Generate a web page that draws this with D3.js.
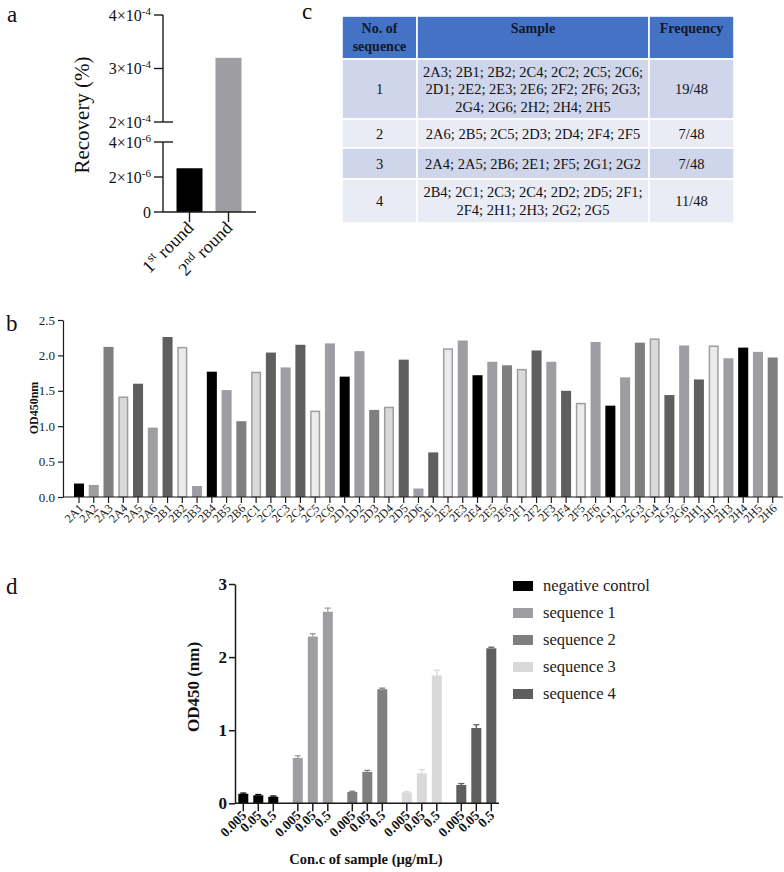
<!DOCTYPE html>
<html><head><meta charset="utf-8">
<script src="https://cdn.jsdelivr.net/npm/d3@7"></script>
<style>
body{margin:0;background:#fff}
svg{display:block}
svg text{font-family:'Liberation Serif','Tinos','Times New Roman','DejaVu Serif',serif !important}
</style>
</head><body>
<svg id="fig" width="784" height="872" style="font-family:'Liberation Serif','DejaVu Serif',serif"></svg>
<script>
// ---------- Panel a data ----------
const recRounds = ["1st", "2nd"];
const recValues = [2.5e-6, 3.2e-4];
const recLowTicks = [0, 2e-6, 4e-6];
const recHighTicks = [2e-4, 3e-4, 4e-4];

// ---------- Panel b data ----------
const wells = ["2A1","2A2","2A3","2A4","2A5","2A6","2B1","2B2","2B3","2B4","2B5","2B6",
  "2C1","2C2","2C3","2C4","2C5","2C6","2D1","2D2","2D3","2D4","2D5","2D6",
  "2E1","2E2","2E3","2E4","2E5","2E6","2F1","2F2","2F3","2F4","2F5","2F6",
  "2G1","2G2","2G3","2G4","2G5","2G6","2H1","2H2","2H3","2H4","2H5","2H6"];
const od450 = [0.19,0.17,2.12,1.42,1.60,0.98,2.26,2.12,0.155,1.77,1.51,1.07,
  1.77,2.04,1.83,2.15,1.22,2.17,1.70,2.06,1.23,1.275,1.94,0.12,
  0.63,2.10,2.21,1.72,1.91,1.86,1.81,2.07,1.91,1.50,1.33,2.19,
  1.29,1.69,2.18,2.24,1.44,2.14,1.66,2.14,1.96,2.11,2.05,1.97];
const odTicks = [0, 0.5, 1.0, 1.5, 2.0, 2.5];

// ---------- Panel c data ----------
const seqHeader = [["No. of", "sequence"], ["Sample"], ["Frequency"]];
const seqNumbers = ["1", "2", "3", "4"];
const seqSamples = [
  ["2A3; 2B1; 2B2; 2C4; 2C2; 2C5; 2C6;", "2D1; 2E2; 2E3; 2E6; 2F2; 2F6; 2G3;", "2G4; 2G6; 2H2; 2H4; 2H5"],
  ["2A6; 2B5; 2C5; 2D3; 2D4; 2F4; 2F5"],
  ["2A4; 2A5; 2B6; 2E1; 2F5; 2G1; 2G2"],
  ["2B4; 2C1; 2C3; 2C4; 2D2; 2D5; 2F1;", "2F4; 2H1; 2H3; 2G2; 2G5"]
];
const seqFreq = ["19/48", "7/48", "7/48", "11/48"];

// ---------- Panel d data ----------
const concLabels = ["0.005", "0.05", "0.5"];
const groups = ["negative control", "sequence 1", "sequence 2", "sequence 3", "sequence 4"];
const dMeans = [[0.13,0.11,0.09],[0.62,2.28,2.62],[0.155,0.43,1.56],[0.15,0.41,1.75],[0.25,1.03,2.12]];
const dErrors = [[0.01,0.01,0.01],[0.03,0.04,0.05],[0.01,0.02,0.015],[0.01,0.05,0.07],[0.02,0.045,0.015]];
const dTicks = [0, 1, 2, 3];

// ---------- styles ----------
const SERIF = "'Liberation Serif','DejaVu Serif',serif";
const svg = d3.select("#fig");
const AX = "#1a1a1a";
const groupColors = ["#000000", "#9e9ea2", "#7f7f7f", "#d9d9d9", "#5f5f5f"];
// GraphPad grayscale cycle used in panel b
const wellPalette = [
  {f:"#000000", s:null}, {f:"#9e9ea2", s:null}, {f:"#7f7f7f", s:null},
  {f:"#d9d9d9", s:"#9e9ea2"}, {f:"#5f5f5f", s:null}, {f:"#9e9ea2", s:null},
  {f:"#5f5f5f", s:null}, {f:"#ebebeb", s:"#9e9ea2"}, {f:"#9e9ea2", s:null}
];

function txt(sel) { return sel.append("text").style("font-family", SERIF).attr("fill", "#111"); }
function panelLabel(t, x, y) { txt(svg).attr("x", x).attr("y", y).attr("font-size", 23).text(t); }

// =============== Panel a ===============
(function () {
  const g = svg.append("g");
  const axX = 163, baseY = 212;
  const yLow = d3.scaleLinear().domain([0, 4e-6]).range([baseY, 142]);
  const yHigh = d3.scaleLinear().domain([2e-4, 4e-4]).range([122, 15]);
  const x = d3.scaleBand().domain(recRounds).range([170, 248]).paddingInner(0.333).paddingOuter(0.167);
  const yVal = v => v <= 4e-6 ? yLow(v) : yHigh(v);

  g.selectAll("rect.bar").data(recValues).join("rect")
    .attr("x", (d, i) => x(recRounds[i]))
    .attr("width", x.bandwidth())
    .attr("y", d => yVal(d))
    .attr("height", d => baseY - yVal(d))
    .attr("fill", (d, i) => i === 0 ? "#000" : "#9e9ea2");

  g.append("line").attr("x1", axX).attr("x2", axX).attr("y1", yHigh(4e-4)).attr("y2", yHigh(2e-4)).attr("stroke", AX).attr("stroke-width", 1.4);
  g.append("line").attr("x1", axX).attr("x2", axX).attr("y1", yLow(4e-6)).attr("y2", baseY).attr("stroke", AX).attr("stroke-width", 1.4);
  g.append("line").attr("x1", axX).attr("x2", 256).attr("y1", baseY).attr("y2", baseY).attr("stroke", AX).attr("stroke-width", 1.4);

  const tickItems = recHighTicks.map(v => ({v, y: yHigh(v), brk: v === 2e-4, exp: -4}))
    .concat(recLowTicks.map(v => ({v, y: yLow(v), brk: v === 4e-6, exp: -6})));
  tickItems.forEach(t => {
    g.append("line").attr("x1", axX - 9).attr("x2", t.brk ? axX + 10 : axX)
      .attr("y1", t.y).attr("y2", t.y).attr("stroke", AX).attr("stroke-width", 1.4);
    const tx = txt(g).attr("x", axX - 12).attr("y", t.y + 5.5)
      .attr("text-anchor", "end").attr("font-size", 16);
    if (t.v === 0) { tx.text("0"); }
    else {
      const m = Math.round(t.v / Math.pow(10, t.exp));
      tx.append("tspan").text(m + "\u00d710");
      tx.append("tspan").attr("dy", -6).attr("font-size", 11).text("-" + (-t.exp));
    }
  });

  recRounds.forEach((r, i) => {
    const cx = x(r) + x.bandwidth() / 2;
    g.append("line").attr("x1", cx).attr("x2", cx).attr("y1", baseY).attr("y2", baseY + 10).attr("stroke", AX).attr("stroke-width", 1.4);
    const t = txt(g).attr("text-anchor", "end").attr("font-size", 18)
      .attr("transform", `translate(${cx + 5},${baseY + 17}) rotate(-45)`);
    t.append("tspan").text(r.slice(0, 1));
    t.append("tspan").attr("dy", -7).attr("font-size", 12).text(r.slice(1));
    t.append("tspan").attr("dy", 7).text(" round");
  });

  txt(g).attr("transform", "translate(89,115) rotate(-90)")
    .attr("text-anchor", "middle").attr("font-size", 21).text("Recovery (%)");
  panelLabel("a", 7, 22);
})();

// =============== Panel c ===============
(function () {
  const g = svg.append("g");
  const colX = [342, 417, 649, 734];
  const rowY = [16, 59, 119, 148, 179, 223];
  const rowFill = ["#4472c4", "#cfd5ea", "#e9ebf5", "#cfd5ea", "#e9ebf5"];
  for (let r = 0; r < 5; r++) {
    for (let c = 0; c < 3; c++) {
      g.append("rect").attr("x", colX[c]).attr("y", rowY[r])
        .attr("width", colX[c + 1] - colX[c]).attr("height", rowY[r + 1] - rowY[r])
        .attr("fill", rowFill[r]).attr("stroke", "#fff").attr("stroke-width", 1.6);
    }
  }
  const cx = c => (colX[c] + colX[c + 1]) / 2;
  seqHeader.forEach((lines, c) => {
    lines.forEach((ln, k) => {
      txt(g).attr("x", cx(c)).attr("y", 33 + k * 18).attr("text-anchor", "middle")
        .attr("font-size", 14).attr("font-weight", "bold").attr("fill", "#101828").text(ln);
    });
  });
  const lh = 17.5;
  seqNumbers.forEach((n, r) => {
    const top = rowY[r + 1], bot = rowY[r + 2];
    const mid = (top + bot) / 2;
    const lines = seqSamples[r];
    const first = mid - (lines.length - 1) * lh / 2 + 5;
    txt(g).attr("x", cx(0)).attr("y", mid + 5).attr("text-anchor", "middle").attr("font-size", 14.5).text(n);
    lines.forEach((ln, k) => {
      txt(g).attr("x", cx(1)).attr("y", first + k * lh).attr("text-anchor", "middle").attr("font-size", 14.5).text(ln);
    });
    txt(g).attr("x", cx(2)).attr("y", mid + 5).attr("text-anchor", "middle").attr("font-size", 14.5).text(seqFreq[r]);
  });
  panelLabel("c", 302, 19);
})();

// =============== Panel b ===============
(function () {
  const g = svg.append("g");
  const axX = 63, baseY = 497;
  const y = d3.scaleLinear().domain([0, 2.5]).range([baseY, 320]);
  const step = 14.76;
  const x = d3.scaleBand().domain(wells).range([79 - step / 2, 79 + step * 47 + step / 2]).paddingInner(0.32).paddingOuter(0.16);

  g.selectAll("rect").data(od450).join("rect")
    .attr("x", (d, i) => x(wells[i]) + (wellPalette[i % 9].s ? 0.75 : 0))
    .attr("width", (d, i) => x.bandwidth() - (wellPalette[i % 9].s ? 1.5 : 0))
    .attr("y", (d, i) => y(d) + (wellPalette[i % 9].s ? 0.75 : 0))
    .attr("height", (d, i) => baseY - y(d) - (wellPalette[i % 9].s ? 0.75 : 0))
    .attr("fill", (d, i) => wellPalette[i % 9].f)
    .attr("stroke", (d, i) => wellPalette[i % 9].s || "none")
    .attr("stroke-width", 1.5);

  const yAxis = d3.axisLeft(y).tickValues(odTicks).tickFormat(d3.format(".1f")).tickSize(5).tickSizeOuter(0);
  const ga = g.append("g").attr("transform", `translate(${axX},0)`).call(yAxis);
  ga.selectAll("path,line").attr("stroke", AX).attr("stroke-width", 1.2);
  ga.selectAll("text").style("font-family", SERIF).attr("font-size", 13).attr("fill", "#222");

  g.append("line").attr("x1", axX).attr("x2", 783).attr("y1", baseY).attr("y2", baseY).attr("stroke", AX).attr("stroke-width", 1.2);
  const xAxis = d3.axisBottom(x).tickSize(6).tickSizeOuter(0);
  const gx = g.append("g").attr("transform", `translate(0,${baseY})`).call(xAxis);
  gx.select("path").remove();
  gx.selectAll("line").attr("stroke", AX).attr("stroke-width", 1.2);
  gx.selectAll("text").style("font-family", SERIF).attr("font-size", 12).attr("fill", "#222")
    .attr("text-anchor", "end").attr("dy", null).attr("y", null)
    .attr("transform", "translate(5,12) rotate(-45)");

  txt(g).attr("transform", "translate(38,408) rotate(-90)")
    .attr("text-anchor", "middle").attr("font-size", 12).attr("font-weight", "bold").text("OD450nm");
  panelLabel("b", 6, 331);
})();

// =============== Panel d ===============
(function () {
  const g = svg.append("g");
  const axX = 235, baseY = 803.3;
  const y = d3.scaleLinear().domain([0, 3]).range([baseY, 584]);
  const xg = d3.scalePoint().domain(groups).range([258.3, 476.3]);
  const xi = d3.scalePoint().domain(concLabels).range([-15, 15]);
  const bw = 10;

  groups.forEach((grp, gi) => {
    concLabels.forEach((c, ci) => {
      const cx = xg(grp) + xi(c);
      const v = dMeans[gi][ci], e = dErrors[gi][ci];
      const col = groupColors[gi];
      g.append("rect").attr("x", cx - bw / 2).attr("width", bw)
        .attr("y", y(v)).attr("height", baseY - y(v)).attr("fill", col);
      g.append("line").attr("x1", cx).attr("x2", cx).attr("y1", y(v)).attr("y2", y(v + e)).attr("stroke", col).attr("stroke-width", 1.3);
      g.append("line").attr("x1", cx - 3).attr("x2", cx + 3).attr("y1", y(v + e)).attr("y2", y(v + e)).attr("stroke", col).attr("stroke-width", 1.3);
      g.append("line").attr("x1", cx).attr("x2", cx).attr("y1", baseY).attr("y2", baseY + 8).attr("stroke", AX).attr("stroke-width", 1.5);
      txt(g).attr("text-anchor", "end").attr("font-size", 13.5).attr("font-weight", "bold")
        .attr("transform", `translate(${cx + 4},${baseY + 13}) rotate(-45)`).text(c);
    });
  });

  const yAxis = d3.axisLeft(y).tickValues(dTicks).tickFormat(d3.format("d")).tickSize(6).tickSizeOuter(0);
  const ga = g.append("g").attr("transform", `translate(${axX},0)`).call(yAxis);
  ga.selectAll("path,line").attr("stroke", AX).attr("stroke-width", 1.5);
  ga.selectAll("text").style("font-family", SERIF).attr("font-size", 17).attr("font-weight", "bold").attr("fill", "#111").attr("x", -8);
  g.append("line").attr("x1", axX).attr("x2", 499).attr("y1", baseY).attr("y2", baseY).attr("stroke", AX).attr("stroke-width", 1.5);

  txt(g).attr("transform", "translate(199,687) rotate(-90)")
    .attr("text-anchor", "middle").attr("font-size", 17).attr("font-weight", "bold").text("OD450 (nm)");
  txt(g).attr("x", 366).attr("y", 864).attr("text-anchor", "middle")
    .attr("font-size", 14.5).attr("font-weight", "bold").text("Con.c of sample (\u00b5g/mL)");

  const lg = g.append("g");
  groups.forEach((grp, gi) => {
    const yy = 586 + gi * 27;
    lg.append("rect").attr("x", 513).attr("y", yy - 5).attr("width", 20).attr("height", 10).attr("fill", groupColors[gi]);
    txt(lg).attr("x", 543).attr("y", yy + 5).attr("font-size", 16.5).attr("fill", "#222").text(grp);
  });
  panelLabel("d", 6, 594);
})();
</script>
</body></html>
